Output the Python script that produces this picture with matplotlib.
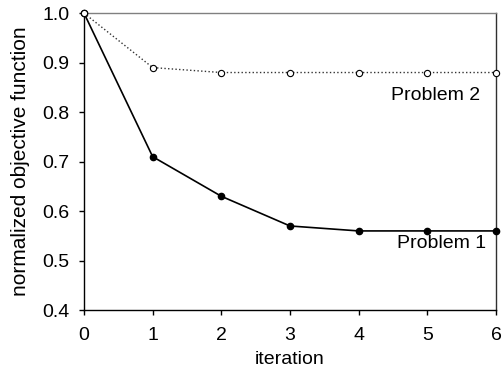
import matplotlib
matplotlib.use("Agg")
import matplotlib.pyplot as plt

plt.rcParams['font.family'] = ['Liberation Sans', 'DejaVu Sans']

# Normalized objective per iteration
iterations = [0, 1, 2, 3, 4, 5, 6]
problem1 = [1.0, 0.71, 0.63, 0.57, 0.56, 0.56, 0.56]
problem2 = [1.0, 0.89, 0.88, 0.88, 0.88, 0.88, 0.88]

fig = plt.figure(figsize=(5.03, 3.75), dpi=100)
ax = fig.add_axes([0.167, 0.173, 0.819, 0.792])

ax.plot(iterations, problem1, color='black', linestyle='-', linewidth=1.2,
        marker='o', markersize=4.5, markerfacecolor='black',
        markeredgecolor='black', clip_on=False, zorder=3)
ax.plot(iterations, problem2, color='#333333', linestyle=':', linewidth=1,
        marker='o', markersize=4.5, markerfacecolor='white',
        markeredgecolor='black', markeredgewidth=0.8, clip_on=False, zorder=4)

ax.text(5.77, 0.834, "Problem 2", ha='right', va='center', fontsize=14)
ax.text(5.85, 0.535, "Problem 1", ha='right', va='center', fontsize=14)

ax.set_xlim(0, 6)
ax.set_ylim(0.4, 1.0)
ax.set_xticks(range(0, 7))
ax.set_yticks([0.4, 0.5, 0.6, 0.7, 0.8, 0.9, 1.0])
ax.set_yticklabels(["0.4", "0.5", "0.6", "0.7", "0.8", "0.9", "1.0"])
ax.tick_params(direction='out', length=3.5, width=1, labelsize=14)
ax.tick_params(axis='x', pad=9)
ax.tick_params(axis='y', pad=7)

ax.spines['top'].set_color('#808080')
ax.spines['right'].set_color('#303030')
for side in ['left', 'bottom']:
    ax.spines[side].set_color('black')
for side in ax.spines:
    ax.spines[side].set_linewidth(1)

ax.set_xlabel("iteration", fontsize=14, labelpad=5)
ax.set_ylabel("normalized objective function", fontsize=15, labelpad=9)

fig.savefig("out.png", dpi=100)
